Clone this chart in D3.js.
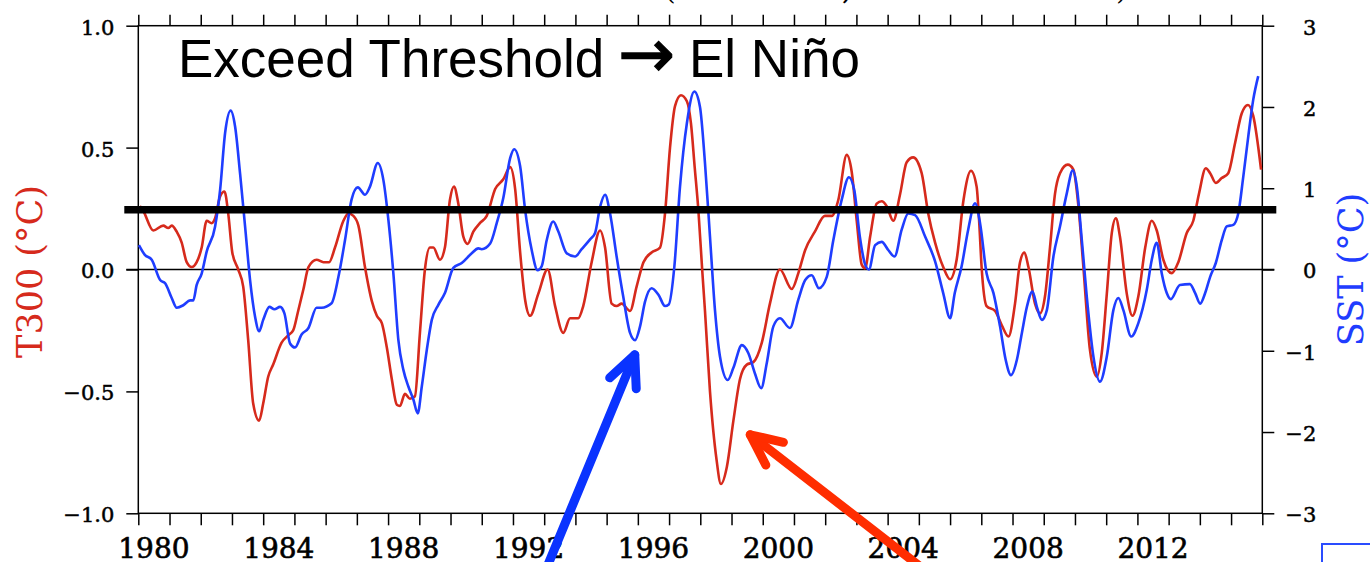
<!DOCTYPE html>
<html>
<head>
<meta charset="utf-8">
<script src="https://cdn.jsdelivr.net/npm/d3@7"></script>
<style>
  body { margin: 0; background: #fff; }
  svg { display: block; overflow: hidden; }
  .tick text { font-family: "DejaVu Serif", serif; fill: #000; stroke: #000; stroke-width: 0.5px; }
</style>
</head>
<body>
<svg id="chart" width="1370" height="562"></svg>
<script>
/// T300 anomaly (left axis, °C)
var t300Year = [1980.05,1980.16,1980.48,1980.80,1980.96,1981.07,1981.23,1981.39,1981.55,1981.71,1981.87,
  1982.03,1982.19,1982.35,1982.46,1982.62,1982.76,1982.88,1983.01,1983.20,1983.36,1983.52,1983.68,1983.87,
  1984.00,1984.16,1984.32,1984.59,1984.80,1984.96,1985.12,1985.29,1985.45,1985.71,1985.93,1986.11,1986.30,
  1986.57,1986.73,1986.89,1987.05,1987.26,1987.48,1987.64,1987.80,1987.96,1988.12,1988.28,1988.38,1988.54,
  1988.70,1988.86,1989.02,1989.18,1989.34,1989.45,1989.66,1989.82,1989.98,1990.11,1990.25,1990.41,1990.55,
  1990.73,1990.94,1991.16,1991.43,1991.69,1991.91,1992.07,1992.23,1992.39,1992.55,1992.81,1993.11,1993.35,
  1993.61,1993.83,1994.09,1994.25,1994.52,1994.79,1994.95,1995.16,1995.32,1995.48,1995.75,1995.96,1996.18,
  1996.44,1996.71,1996.87,1997.03,1997.19,1997.38,1997.57,1997.70,1997.82,1997.94,1998.06,1998.15,1998.31,
  1998.52,1998.66,1998.85,1999.06,1999.27,1999.49,1999.70,1999.97,2000.23,2000.55,2000.93,2001.14,2001.36,
  2001.67,2001.99,2002.21,2002.42,2002.69,2002.85,2003.01,2003.17,2003.28,2003.44,2003.65,2003.81,2003.97,
  2004.18,2004.40,2004.61,2004.82,2005.09,2005.30,2005.52,2005.78,2006.00,2006.21,2006.43,2006.67,2006.85,
  2006.93,2007.01,2007.17,2007.44,2007.66,2007.87,2008.08,2008.24,2008.38,2008.51,2008.72,2008.88,2009.04,
  2009.20,2009.36,2009.52,2009.77,2009.95,2010.11,2010.27,2010.48,2010.70,2010.86,2011.02,2011.18,2011.31,
  2011.44,2011.66,2011.84,2012.03,2012.25,2012.46,2012.62,2012.83,2013.10,2013.31,2013.58,2013.79,2013.97,
  2014.19,2014.33,2014.51,2014.70,2014.91,2015.13,2015.34,2015.54,2015.71,2015.96];
var t300Value = [0.26,0.24,0.16,0.18,0.17,0.18,0.155,0.11,0.03,0.01,0.03,
  0.09,0.20,0.19,0.21,0.30,0.32,0.23,0.07,0.00,-0.07,-0.29,-0.55,-0.62,
  -0.55,-0.44,-0.39,-0.30,-0.27,-0.25,-0.17,-0.08,0.01,0.04,0.03,0.03,0.09,
  0.20,0.23,0.22,0.18,0.01,-0.13,-0.19,-0.22,-0.32,-0.45,-0.555,-0.56,-0.51,
  -0.53,-0.52,-0.26,0.00,0.09,0.09,0.04,0.09,0.285,0.34,0.27,0.135,0.105,
  0.155,0.19,0.22,0.33,0.37,0.42,0.33,0.07,-0.125,-0.19,-0.10,0.00,-0.15,
  -0.26,-0.20,-0.20,-0.15,0.03,0.16,0.09,-0.14,-0.15,-0.14,-0.17,-0.07,0.03,
  0.07,0.09,0.23,0.50,0.67,0.715,0.69,0.60,0.42,0.24,0.00,-0.17,-0.50,
  -0.78,-0.88,-0.81,-0.62,-0.45,-0.39,-0.38,-0.30,-0.14,0.00,-0.08,-0.015,0.08,
  0.155,0.22,0.22,0.285,0.47,0.40,0.20,0.02,0.005,0.135,0.27,0.28,0.26,
  0.20,0.31,0.44,0.46,0.395,0.23,0.11,0.01,-0.04,0.04,0.285,0.405,0.34,
  0.20,0.01,-0.15,-0.17,-0.23,-0.275,-0.14,0.03,0.07,0.01,-0.14,-0.18,-0.11,
  0.09,0.31,0.395,0.43,0.41,0.26,0.01,-0.33,-0.44,-0.34,-0.10,0.15,0.21,
  0.135,-0.10,-0.19,-0.11,0.09,0.20,0.16,0.04,-0.015,0.03,0.15,0.20,0.31,
  0.415,0.395,0.355,0.375,0.395,0.52,0.64,0.675,0.63,0.41];

/// SST anomaly (right axis, °C)
var sstYear = [1980.02,1980.21,1980.43,1980.70,1980.86,1981.07,1981.23,1981.44,1981.66,1981.76,1981.87,
  1982.03,1982.19,1982.46,1982.62,1982.78,1982.96,1983.10,1983.26,1983.42,1983.58,1983.74,1983.87,1984.00,
  1984.20,1984.36,1984.54,1984.68,1984.86,1985.02,1985.23,1985.45,1985.71,1985.87,1986.19,1986.41,1986.62,
  1986.83,1987.03,1987.26,1987.42,1987.67,1987.85,1988.01,1988.17,1988.33,1988.49,1988.65,1988.81,1988.95,
  1989.08,1989.24,1989.40,1989.61,1989.82,1990.09,1990.36,1990.68,1990.89,1991.00,1991.27,1991.48,1991.69,
  1991.91,1992.04,1992.23,1992.39,1992.60,1992.79,1992.92,1993.08,1993.29,1993.45,1993.72,1993.99,1994.20,
  1994.47,1994.63,1994.79,1994.95,1995.11,1995.32,1995.53,1995.75,1995.91,1996.07,1996.23,1996.44,1996.66,
  1996.87,1996.99,1997.17,1997.35,1997.57,1997.81,1997.99,1998.15,1998.31,1998.47,1998.63,1998.88,1999.06,
  1999.33,1999.54,1999.75,1999.95,2000.13,2000.34,2000.55,2000.87,2001.14,2001.36,2001.57,2001.80,2002.05,
  2002.26,2002.53,2002.76,2002.93,2003.11,2003.28,2003.40,2003.60,2003.81,2004.02,2004.22,2004.45,2004.66,
  2004.88,2005.20,2005.52,2005.78,2006.00,2006.15,2006.37,2006.58,2006.80,2006.96,2007.17,2007.39,2007.60,
  2007.78,2007.95,2008.14,2008.30,2008.46,2008.64,2008.78,2008.94,2009.10,2009.31,2009.52,2009.74,2009.93,
  2010.06,2010.22,2010.41,2010.59,2010.80,2011.02,2011.23,2011.39,2011.55,2011.80,2012.03,2012.30,2012.46,
  2012.62,2012.78,2012.94,2013.07,2013.36,2013.68,2013.85,2014.01,2014.17,2014.33,2014.51,2014.70,2014.86,
  2015.07,2015.23,2015.39,2015.55,2015.71,2015.87];
var sstValue = [0.30,0.18,0.12,-0.13,-0.17,-0.35,-0.47,-0.44,-0.38,-0.38,-0.19,
  -0.05,0.22,0.53,0.98,1.68,1.955,1.76,1.18,0.53,-0.13,-0.58,-0.76,-0.62,
  -0.46,-0.49,-0.46,-0.54,-0.91,-0.96,-0.80,-0.72,-0.47,-0.47,-0.415,-0.09,0.36,
  0.86,1.01,0.92,1.02,1.31,1.10,0.61,-0.05,-0.87,-1.235,-1.44,-1.60,-1.77,
  -1.44,-0.99,-0.62,-0.435,-0.29,0.02,0.08,0.20,0.26,0.25,0.32,0.57,0.88,
  1.37,1.48,1.27,0.73,0.24,-0.01,0.04,0.36,0.59,0.47,0.20,0.16,0.25,
  0.37,0.45,0.77,0.92,0.69,0.16,-0.33,-0.78,-0.87,-0.70,-0.395,-0.23,-0.31,
  -0.45,-0.43,0.04,1.02,1.80,2.19,2.00,1.31,0.405,-0.50,-1.07,-1.36,-1.21,
  -0.93,-1.03,-1.28,-1.46,-1.15,-0.70,-0.60,-0.72,-0.37,-0.13,-0.07,-0.23,-0.09,
  0.36,0.86,1.135,0.98,0.405,0.06,0.00,0.30,0.34,0.24,0.16,0.49,0.69,
  0.67,0.405,0.10,-0.29,-0.60,-0.29,0.04,0.49,0.815,0.57,-0.05,-0.29,-0.70,
  -1.11,-1.30,-1.11,-0.78,-0.46,-0.27,-0.46,-0.62,-0.50,0.16,0.53,0.94,1.22,
  1.02,0.36,-0.46,-1.07,-1.38,-1.07,-0.50,-0.35,-0.50,-0.825,-0.66,-0.25,0.12,
  0.33,-0.05,-0.29,-0.365,-0.19,-0.18,-0.29,-0.42,-0.29,-0.09,0.08,0.36,0.53,
  0.55,0.69,1.14,1.635,2.09,2.38];

/// axes: minor ticks every year, labels every 4 years, threshold in T300 units
var tickYears = d3.range(1980, 2017);
var labelYears = [1980, 1984, 1988, 1992, 1996, 2000, 2004, 2008, 2012];
var leftTicks = [-1, -0.5, 0, 0.5, 1];
var rightTicks = [-3, -2, -1, 0, 1, 2, 3];
var threshold = 0.245;

/// annotation arrows in data units: [tipYear, tipValue, tailYear, tailValue]
var blueArrow = [1995.9, -1.05, 1992.92, -3.82];   // SST units
var redArrow = [1999.6, -0.678, 2005.58, -1.272];  // T300 units

var RED = "#d62a1c", BLUE = "#1f3dff";

var svg = d3.select("#chart");

/// set dimensions
var plot = {left: 138.3, right: 1262.3, top: 25.7, bottom: 513.3};

var x = d3.scaleLinear().domain([1980, 2016]).range([plot.left, plot.right]);
var yL = d3.scaleLinear().domain([-1, 1]).range([plot.bottom, plot.top]);
var yR = d3.scaleLinear().domain([-3, 3]).range([plot.bottom, plot.top]);

// cropped slide title, only the descenders are left in the picture
var title = svg.append("text")
               .attr("y", -1)
               .style("font-family", "DejaVu Serif")
               .style("font-size", "30px");
title.append("tspan").attr("x", 664).text("(T300");
title.append("tspan").attr("x", 842).text(", SST");
title.append("tspan").attr("x", 1116).text(")");

// bottom axis, top axis
svg.append("g")
   .attr("transform", "translate(0," + plot.bottom + ")")
   .call(d3.axisBottom(x).tickValues(tickYears).tickSize(12).tickSizeOuter(0).tickFormat(""))
   .call(g => g.select(".domain").remove())
   .selectAll("line").attr("stroke", "#000").attr("stroke-width", 1.5);

svg.append("g")
   .attr("transform", "translate(0," + plot.top + ")")
   .call(d3.axisTop(x).tickValues(tickYears).tickSize(11).tickSizeOuter(0).tickFormat(""))
   .call(g => g.select(".domain").remove())
   .selectAll("line").attr("stroke", "#000").attr("stroke-width", 1.5);

// year labels sit in the middle of the year
svg.append("g")
   .selectAll("text")
   .data(labelYears)
   .enter()
   .append("text")
   .attr("x", d => x(d + 0.5))
   .attr("y", 558)
   .attr("text-anchor", "middle")
   .style("font-family", "DejaVu Serif")
   .style("font-size", "28px")
   .style("stroke", "#000")
   .style("stroke-width", "0.6px")
   .text(d => d);

// left axis
var gL = svg.append("g")
            .attr("transform", "translate(" + plot.left + ",0)")
            .call(d3.axisLeft(yL).tickValues(leftTicks).tickSize(12).tickSizeOuter(0)
                    .tickPadding(12).tickFormat(d3.format(".1f")))
            .call(g => g.select(".domain").remove());
gL.selectAll("line").attr("stroke", "#000").attr("stroke-width", 1.5);
gL.selectAll("text").attr("dy", "0.4em").style("font-size", "21px");

// right axis
var gR = svg.append("g")
            .attr("transform", "translate(" + plot.right + ",0)")
            .call(d3.axisRight(yR).tickValues(rightTicks).tickSize(12).tickSizeOuter(0)
                    .tickFormat(d3.format("d")))
            .call(g => g.select(".domain").remove());
gR.selectAll("line").attr("stroke", "#000").attr("stroke-width", 1.5);
gR.selectAll("text").attr("x", 54).attr("dy", "0.4em")
  .attr("text-anchor", "end").style("font-size", "21px");

// frame
svg.append("rect")
   .attr("x", plot.left)
   .attr("y", plot.top)
   .attr("width", plot.right - plot.left)
   .attr("height", plot.bottom - plot.top)
   .attr("fill", "none")
   .attr("stroke", "#000")
   .attr("stroke-width", 1.5);

// zero line, runs over the ticks on both sides
svg.append("line")
   .attr("x1", plot.left - 12)
   .attr("x2", plot.right + 12)
   .attr("y1", yL(0))
   .attr("y2", yL(0))
   .attr("stroke", "#000")
   .attr("stroke-width", 1.5);

// axis titles
svg.append("text")
   .attr("transform", "translate(42," + ((plot.top + plot.bottom) / 2 + 2) + ") rotate(-90)")
   .attr("text-anchor", "middle")
   .style("font-family", "DejaVu Serif")
   .style("font-size", "35px")
   .style("fill", RED)
   .text("T300 (°C)");

svg.append("text")
   .attr("transform", "translate(1363," + ((plot.top + plot.bottom) / 2 + 0) + ") rotate(-90)")
   .attr("text-anchor", "middle")
   .style("font-family", "DejaVu Serif")
   .style("font-size", "35px")
   .style("fill", BLUE)
   .text("SST (°C)");

// series
var lineL = d3.line().x(d => x(d[0])).y(d => yL(d[1])).curve(d3.curveMonotoneX);
var lineR = d3.line().x(d => x(d[0])).y(d => yR(d[1])).curve(d3.curveMonotoneX);

svg.append("path")
   .attr("d", lineL(d3.zip(t300Year, t300Value)))
   .attr("fill", "none")
   .attr("stroke", RED)
   .attr("stroke-width", 2.6)
   .attr("stroke-linejoin", "round");

svg.append("path")
   .attr("d", lineR(d3.zip(sstYear, sstValue)))
   .attr("fill", "none")
   .attr("stroke", BLUE)
   .attr("stroke-width", 2.6)
   .attr("stroke-linejoin", "round");

// threshold bar
svg.append("line")
   .attr("x1", plot.left - 14)
   .attr("x2", plot.right + 14)
   .attr("y1", yL(threshold))
   .attr("y2", yL(threshold))
   .attr("stroke", "#000")
   .attr("stroke-width", 7.5);

var note = svg.append("text")
              .attr("y", 77)
              .style("font-family", "Liberation Sans, Arial, sans-serif")
              .style("font-size", "53px");
note.append("tspan").attr("x", 178).text("Exceed Threshold");
note.append("tspan").attr("x", 618).style("font-family", "DejaVu Sans")
    .style("font-size", "68px").style("stroke", "#000").style("stroke-width", "1.2px").text("\u2192");
note.append("tspan").attr("x", 689).text("El Niño");

/// annotation arrows
function drawArrow(a, yScale, color) {
  var tip = [x(a[0]), yScale(a[1])],
      tail = [x(a[2]), yScale(a[3])];
  var ang = Math.atan2(tail[1] - tip[1], tail[0] - tip[0]),
      len = 34, spread = 25 * Math.PI / 180;
  var b1 = [tip[0] + len * Math.cos(ang + spread), tip[1] + len * Math.sin(ang + spread)],
      b2 = [tip[0] + len * Math.cos(ang - spread), tip[1] + len * Math.sin(ang - spread)];
  var g = svg.append("g")
             .attr("fill", "none")
             .attr("stroke", color)
             .attr("stroke-width", 9)
             .attr("stroke-linecap", "round")
             .attr("stroke-linejoin", "round");
  g.append("path").attr("d", d3.line()([tail, tip]));
  g.append("path").attr("d", d3.line()([b1, tip, b2]));
}
drawArrow(blueArrow, yR, "#0a33ff");
drawArrow(redArrow, yL, "#ff2d00");

// slide box cut by the bottom right corner
svg.append("rect")
   .attr("x", 1322)
   .attr("y", 544)
   .attr("width", 120)
   .attr("height", 60)
   .attr("fill", "none")
   .attr("stroke", "#2a4cff")
   .attr("stroke-width", 2);
</script>
</body>
</html>
